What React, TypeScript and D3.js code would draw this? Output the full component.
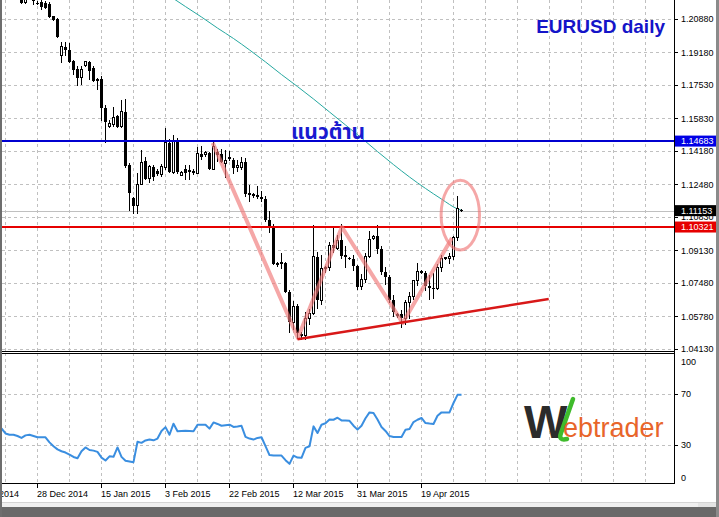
import React from "react";
import * as d3 from "d3";

// ---------- DATA ----------
const opens = [
  1.2500, 1.2335, 1.2290, 1.2230, 1.2230, 1.2225, 1.2170, 1.2195, 1.2190, 1.2170,
  1.2174, 1.2167, 1.2164, 1.2103, 1.2088, 1.1905, 1.1946, 1.1931, 1.1875, 1.1834,
  1.1793, 1.1850, 1.1870, 1.1839, 1.1783, 1.1783, 1.1636, 1.1540, 1.1555, 1.1595,
  1.1540, 1.1616, 1.1347, 1.1180, 1.1139, 1.1250, 1.1367, 1.1276, 1.1337, 1.1316,
  1.1301, 1.1332, 1.1459, 1.1311, 1.1464, 1.1296, 1.1326, 1.1316, 1.1316, 1.1306,
  1.1403, 1.1398, 1.1408, 1.1326, 1.1413, 1.1403, 1.1357, 1.1387, 1.1372, 1.1332,
  1.1332, 1.1362, 1.1205, 1.1190, 1.1195, 1.1185, 1.1175, 1.1070, 1.1030, 1.0840,
  1.0845, 1.0850, 1.0700, 1.0550, 1.0630, 1.0490, 1.0480, 1.0570, 1.0595, 1.0880,
  1.0660, 1.0820, 1.0825, 1.0940, 1.0925, 1.0965, 1.0885, 1.0875, 1.0870, 1.0835,
  1.0730, 1.0765, 1.0880, 1.0975, 1.0985, 1.0920, 1.0805, 1.0780, 1.0660, 1.0585,
  1.0590, 1.0570, 1.0650, 1.0680, 1.0760, 1.0810, 1.0800, 1.0735, 1.0725, 1.0720,
  1.0825, 1.0870, 1.0870, 1.0880, 1.0980, 1.1120,
];
const highs = [
  1.2570, 1.2340, 1.2300, 1.2240, 1.2285, 1.2245, 1.2215, 1.2200, 1.2205, 1.2180,
  1.2185, 1.2180, 1.2174, 1.2105, 1.2092, 1.1971, 1.1971, 1.1966, 1.1880, 1.1849,
  1.1849, 1.1875, 1.1875, 1.1849, 1.1788, 1.1800, 1.1650, 1.1575, 1.1641, 1.1600,
  1.1677, 1.1680, 1.1355, 1.1185, 1.1306, 1.1423, 1.1387, 1.1345, 1.1345, 1.1325,
  1.1350, 1.1535, 1.1479, 1.1499, 1.1484, 1.1316, 1.1347, 1.1347, 1.1326, 1.1438,
  1.1443, 1.1418, 1.1415, 1.1464, 1.1430, 1.1430, 1.1423, 1.1418, 1.1380, 1.1370,
  1.1390, 1.1385, 1.1245, 1.1205, 1.1240, 1.1215, 1.1190, 1.1115, 1.1050, 1.0855,
  1.0900, 1.0855, 1.0710, 1.0655, 1.0640, 1.0500, 1.0600, 1.0615, 1.1043, 1.0905,
  1.0890, 1.0835, 1.0955, 1.1030, 1.0990, 1.1050, 1.0935, 1.0880, 1.0890, 1.0840,
  1.0795, 1.0900, 1.1010, 1.0990, 1.1040, 1.0935, 1.0830, 1.0790, 1.0685, 1.0595,
  1.0610, 1.0660, 1.0700, 1.0765, 1.0850, 1.0815, 1.0810, 1.0790, 1.0800, 1.0845,
  1.0890, 1.0880, 1.0900, 1.0985, 1.1190, 1.1125,
];
const lows = [
  1.2330, 1.2245, 1.2220, 1.2225, 1.2220, 1.2165, 1.2165, 1.2185, 1.2160, 1.2160,
  1.2135, 1.2140, 1.2093, 1.2080, 1.1992, 1.1865, 1.1900, 1.1865, 1.1804, 1.1748,
  1.1753, 1.1845, 1.1778, 1.1768, 1.1728, 1.1568, 1.1459, 1.1535, 1.1540, 1.1535,
  1.1535, 1.1330, 1.1113, 1.1098, 1.1098, 1.1245, 1.1270, 1.1255, 1.1265, 1.1290,
  1.1285, 1.1321, 1.1306, 1.1301, 1.1301, 1.1291, 1.1270, 1.1270, 1.1296, 1.1300,
  1.1370, 1.1390, 1.1321, 1.1321, 1.1360, 1.1355, 1.1281, 1.1365, 1.1301, 1.1310,
  1.1320, 1.1185, 1.1160, 1.1180, 1.1175, 1.1160, 1.1060, 1.1000, 1.0840, 1.0830,
  1.0820, 1.0695, 1.0495, 1.0510, 1.0462, 1.0460, 1.0457, 1.0535, 1.0585, 1.0615,
  1.0635, 1.0800, 1.0810, 1.0900, 1.0915, 1.0870, 1.0825, 1.0865, 1.0810, 1.0710,
  1.0715, 1.0750, 1.0875, 1.0965, 1.0895, 1.0790, 1.0740, 1.0645, 1.0575, 1.0570,
  1.0520, 1.0535, 1.0565, 1.0660, 1.0735, 1.0795, 1.0705, 1.0660, 1.0665, 1.0710,
  1.0805, 1.0865, 1.0845, 1.0865, 1.0961, 1.1110,
];
const closes = [
  1.2335, 1.2290, 1.2225, 1.2235, 1.2225, 1.2170, 1.2195, 1.2190, 1.2180, 1.2165,
  1.2149, 1.2144, 1.2098, 1.2083, 1.1997, 1.1946, 1.1931, 1.1870, 1.1829, 1.1788,
  1.1834, 1.1870, 1.1824, 1.1773, 1.1773, 1.1636, 1.1565, 1.1560, 1.1590, 1.1540,
  1.1616, 1.1342, 1.1205, 1.1139, 1.1250, 1.1362, 1.1276, 1.1337, 1.1286, 1.1301,
  1.1337, 1.1459, 1.1311, 1.1464, 1.1311, 1.1311, 1.1306, 1.1321, 1.1306, 1.1403,
  1.1387, 1.1408, 1.1326, 1.1443, 1.1398, 1.1362, 1.1372, 1.1377, 1.1332, 1.1342,
  1.1362, 1.1200, 1.1195, 1.1198, 1.1185, 1.1175, 1.1070, 1.1030, 1.0845, 1.0845,
  1.0850, 1.0700, 1.0550, 1.0630, 1.0495, 1.0480, 1.0570, 1.0595, 1.0880, 1.0660,
  1.0820, 1.0825, 1.0940, 1.0925, 1.0965, 1.0885, 1.0890, 1.0870, 1.0835, 1.0730,
  1.0765, 1.0880, 1.0970, 1.0985, 1.0920, 1.0805, 1.0780, 1.0660, 1.0600, 1.0590,
  1.0570, 1.0650, 1.0680, 1.0760, 1.0805, 1.0800, 1.0735, 1.0725, 1.0720, 1.0825,
  1.0870, 1.0875, 1.0880, 1.0980, 1.1125, 1.1115,
];

const maBars = [42, 46, 50, 54, 58, 62, 66, 70, 74, 78, 82, 86, 90, 94, 98, 102, 106, 110, 114, 115];
const maValues = [
  1.2205, 1.2151, 1.2098, 1.2042, 1.1989, 1.1931, 1.1870, 1.1806, 1.1745, 1.1682,
  1.1616, 1.1550, 1.1484, 1.1415, 1.1349, 1.1286, 1.1228, 1.1174, 1.1124, 1.1117,
];

const rsiValues = [
  43, 39, 38, 38, 37, 35.5, 37.5, 38, 37, 36,
  36, 36, 32, 29, 26.5, 25, 24, 22.4, 20.5, 19.5,
  25, 28, 26, 25.5, 24.5, 20, 17.7, 21, 20.6, 28,
  20.6, 17.5, 17, 16.4, 32.5, 31.6, 33.5, 34.2, 33.6, 35,
  41, 44, 38, 46.7, 40.7, 41, 41.2, 41, 40.7, 45.9,
  45.9, 45.9, 42.8, 47.7, 46.5, 45.1, 45.5, 45.9, 44.1, 44.5,
  45, 36.3, 35, 34.2, 35.5, 36, 29, 22, 21.6, 21.6,
  21.6, 18, 15.1, 21.6, 20, 19.8, 27.6, 28.9, 44.6, 39.4,
  45.9, 47, 50, 49.8, 51.4, 49.3, 49.3, 49, 45.1, 42,
  45.1, 51, 55.6, 55.1, 50, 44.1, 41, 37, 36.3, 36.3,
  36.3, 42, 42.5, 48, 49.8, 51.2, 47.2, 46.8, 46.5, 53,
  55.6, 55.6, 55.6, 63, 69.4, 69.5,
];

const priceTicks = [1.2088, 1.1918, 1.1753, 1.1583, 1.1418, 1.1248, 1.1083, 1.0913, 1.0748, 1.0578, 1.0413];
const rsiTicks = [100, 70, 30, 0];
const rsiGrid = [70, 30];
const dateTickBars = [-7, 9, 25, 41, 57, 73, 89, 105];
const dateTickLabels = ["9 Dec 2014", "28 Dec 2014", "15 Jan 2015", "3 Feb 2015", "22 Feb 2015", "12 Mar 2015", "31 Mar 2015", "19 Apr 2015"];

const resistanceLevel = 1.14683;
const neckLevel = 1.10321;
const lastPrice = 1.11153;

const patternBars = [52.8, 74.1, 85.1, 100.3, 112.6];
const patternPrices = [1.1459, 1.0469, 1.1032, 1.0545, 1.0976];
const trendBars = [74, 136.8];
const trendPrices = [1.0462, 1.0667];
const circleBar = 114.7;
const circlePrice = 1.1093;
const circleHalfBars = 4.8;
const circleHalfPrice = 0.0177;

const fmt = (v: number) => v.toFixed(5);

export default function App() {
  const W = 719, H = 517;
  const PL = 2, PR = 674, MB = 351, ST = 353, SB = 483;
  const x = d3.scaleLinear().domain([0, 115]).range([1.5, 461.5]);
  const y = d3.scaleLinear().domain([1.0413, 1.2088]).range([349, 19]);
  const yr = d3.scaleLinear().domain([0, 100]).range([483, 356]);

  const gridBars = d3.range(1, 170, 8).filter((b) => x(b) < PR - 2);
  const maPath = d3.line<number>().x((_, k) => x(maBars[k])).y((v) => y(v)).curve(d3.curveMonotoneX)(maValues) || "";
  const rsiPath = d3.line<number>().x((_, k) => x(k)).y((v) => yr(v))(rsiValues) || "";
  const patternPath = d3.line<number>().x((_, k) => x(patternBars[k])).y((v) => y(v))(patternPrices) || "";
  const trendPath = d3.line<number>().x((_, k) => x(trendBars[k])).y((v) => y(v))(trendPrices) || "";
  const cx = x(circleBar), cy = y(circlePrice);
  const crx = x(circleBar + circleHalfBars) - cx;
  const cry = y(circlePrice - circleHalfPrice) - cy;

  const lblFont = "'Liberation Sans', Arial, sans-serif";

  const boxes = [
    { v: resistanceLevel, fill: "#0000e6" },
    { v: lastPrice, fill: "#000000" },
    { v: neckLevel, fill: "#e60000" },
  ];

  return (
    <svg width={W} height={H} style={{ position: "absolute", left: 0, top: 0, background: "#fff" }} fontFamily={lblFont}>
      <defs>
        <clipPath id="main"><rect x={PL} y={0} width={PR - PL} height={MB} /></clipPath>
        <clipPath id="sub"><rect x={PL} y={ST} width={PR - PL} height={SB - ST} /></clipPath>
      </defs>
      <rect x={0} y={0} width={W} height={H} fill="#fff" />

      {/* grid main */}
      <g stroke="#c0c0c0" strokeDasharray="3,3" strokeWidth={1} shapeRendering="crispEdges">
        {priceTicks.map((t) => (
          <line key={"h" + t} x1={PL} x2={PR} y1={Math.round(y(t)) + 0.5} y2={Math.round(y(t)) + 0.5} />
        ))}
        {gridBars.map((b) => (
          <line key={"v" + b} x1={x(b)} x2={x(b)} y1={0} y2={MB} />
        ))}
        {rsiGrid.map((t) => (
          <line key={"r" + t} x1={PL} x2={PR} y1={Math.round(yr(t)) + 0.5} y2={Math.round(yr(t)) + 0.5} />
        ))}
        {gridBars.map((b) => (
          <line key={"vs" + b} x1={x(b)} x2={x(b)} y1={ST} y2={SB} />
        ))}
      </g>

      <g clipPath="url(#main)">
        {/* current price line */}
        <line x1={PL} x2={PR} y1={Math.round(y(lastPrice)) + 0.5} y2={Math.round(y(lastPrice)) + 0.5} stroke="#c0c0c0" strokeWidth={1} />
        {/* moving average */}
        <path d={maPath} fill="none" stroke="#26a8a0" strokeWidth={1} />
        {/* candles */}
        {opens.map((o, i) => {
          const c = closes[i], h = highs[i], l = lows[i];
          const bx = x(i);
          const top = y(Math.max(o, c)), bot = y(Math.min(o, c));
          const bull = c > o;
          return (
            <g key={i} shapeRendering="crispEdges">
              <line x1={bx} x2={bx} y1={y(h)} y2={y(l)} stroke="#000" strokeWidth={1} />
              {bull ? (
                <rect x={bx - 1} y={top} width={2} height={Math.max(bot - top, 1)} fill="#fff" stroke="#000" strokeWidth={1} />
              ) : (
                <rect x={bx - 1.5} y={top} width={3} height={Math.max(bot - top, 1)} fill="#000" />
              )}
            </g>
          );
        })}
        {/* levels */}
        <line x1={PL} x2={PR} y1={y(resistanceLevel)} y2={y(resistanceLevel)} stroke="#0000d0" strokeWidth={2} />
        <line x1={PL} x2={PR} y1={y(neckLevel)} y2={y(neckLevel)} stroke="#e60000" strokeWidth={2} />
        {/* pattern */}
        <path d={patternPath} fill="none" stroke="#f07878" strokeOpacity={0.65} strokeWidth={4} strokeLinejoin="round" />
        <ellipse cx={cx} cy={cy} rx={crx} ry={cry} fill="none" stroke="#f07878" strokeOpacity={0.65} strokeWidth={3} />
        <path d={trendPath} fill="none" stroke="#d81818" strokeWidth={2.5} />
      </g>

      {/* texts on chart */}
      <text x={665} y={33} textAnchor="end" fontSize={19} fontWeight="bold" fill="#1414c8" fontFamily="'Liberation Sans', Arial, sans-serif">EURUSD daily</text>
      <text x={291} y={139} fontSize={21} fontWeight="bold" fill="#1a1ad0" fontFamily="'Noto Sans Thai', 'Noto Sans Thai UI', Tahoma, 'Noto Sans', 'DejaVu Sans', sans-serif">แนวต้าน</text>

      {/* RSI */}
      <g clipPath="url(#sub)">
        <path d={rsiPath} fill="none" stroke="#3a8ee0" strokeWidth={2} strokeLinejoin="round" />
      </g>

      {/* logo */}
      <g>
        <text x={524} y={438} fontSize={46} fontWeight="bold" fill="#2b2b2b" fontFamily="'Liberation Sans', Arial, sans-serif">W</text>
        <path d="M573 399 L561 433 Q558 441 567 439" fill="none" stroke="#3fbb2c" strokeWidth={4.5} strokeLinecap="round" />
        <text x={563} y={437} fontSize={27} fill="#e8652a" fontFamily="'Liberation Sans', Arial, sans-serif">ebtrader</text>
      </g>

      {/* panel borders */}
      <g stroke="#000" strokeWidth={1} shapeRendering="crispEdges">
        <line x1={PL} x2={PR} y1={MB + 0.5} y2={MB + 0.5} />
        <line x1={PL} x2={PR} y1={ST + 0.5} y2={ST + 0.5} />
        <line x1={PL} x2={PR + 1} y1={SB + 0.5} y2={SB + 0.5} />
        <line x1={PR + 0.5} x2={PR + 0.5} y1={0} y2={SB + 1} />
      </g>

      {/* price axis */}
      <g fontSize={9} fill="#000">
        {priceTicks.map((t) => (
          <g key={"pt" + t}>
            <line x1={PR} x2={PR + 4} y1={Math.round(y(t)) + 0.5} y2={Math.round(y(t)) + 0.5} stroke="#000" />
            <text x={681} y={y(t)} dy="0.35em">{fmt(t)}</text>
          </g>
        ))}
        {boxes.map((b) => (
          <g key={"bx" + b.v}>
            <rect x={PR + 1} y={y(b.v) - 5.5} width={42} height={11} fill={b.fill} />
            <text x={681} y={y(b.v)} dy="0.35em" fill="#fff">{fmt(b.v)}</text>
          </g>
        ))}
        {rsiTicks.map((t) => (
          <g key={"rt" + t}>
            {t > 0 && t < 100 ? (
              <line x1={PR} x2={PR + 4} y1={Math.round(yr(t)) + 0.5} y2={Math.round(yr(t)) + 0.5} stroke="#000" />
            ) : null}
            <text x={681} y={Math.min(Math.max(yr(t), 362), 478)} dy="0.35em">{t}</text>
          </g>
        ))}
      </g>

      {/* time axis */}
      <g fontSize={9} fill="#000">
        {dateTickBars.map((b, k) => (
          <g key={"dt" + b}>
            <line x1={x(b)} x2={x(b)} y1={SB} y2={SB + 5} stroke="#000" shapeRendering="crispEdges" />
            <text x={x(b) - 0.5} y={497}>{dateTickLabels[k]}</text>
          </g>
        ))}
      </g>

      {/* window frame */}
      <rect x={0} y={502} width={W} height={5} fill="#f0f0f0" />
      <line x1={0} x2={W} y1={502.5} y2={502.5} stroke="#d4d4d4" />
      <rect x={698} y={503} width={18} height={4} fill="#e4e4e4" />
      <rect x={0} y={507} width={W} height={10} fill="#696969" />
      <rect x={0} y={0} width={2} height={H} fill="#6e6e6e" />
      <rect x={716} y={0} width={3} height={H} fill="#8a8a8a" />
    </svg>
  );
}
